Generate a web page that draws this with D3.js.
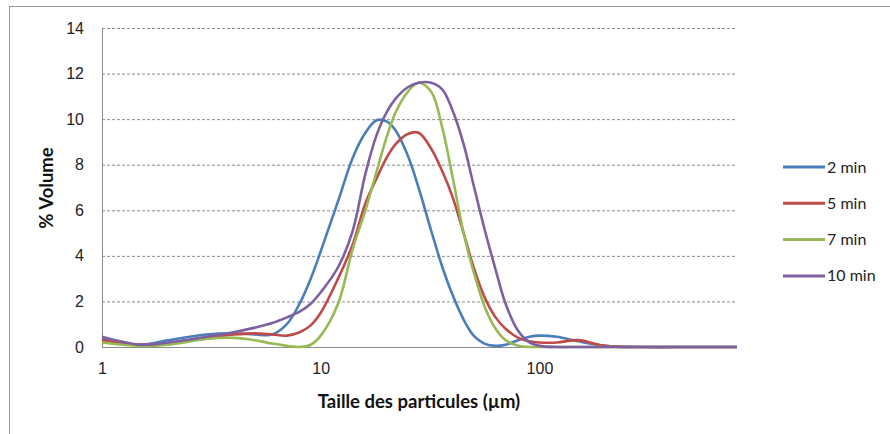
<!DOCTYPE html>
<head>
    <meta charset="utf-8">
    <style>
        body { margin: 0; background: #fff; }
        .grid line { stroke: #8c8c8c; stroke-dasharray: 3,2; stroke-width: 1; }
        .grid path { display: none; }
        .tick-y text, .tick-x text { font-family: "Liberation Sans", Arial, sans-serif; font-size: 16px; fill: #222; }
        .title { font-family: Lato, "Open Sans", sans-serif; font-weight: bold; font-size: 18.5px; fill: #111; }
        .legend text { font-family: Lato, "Open Sans", sans-serif; font-size: 16px; fill: #222; }
    </style>
</head>
<body>
    <script src="https://d3js.org/d3.v7.min.js"></script>
    <script>

        // particle sizes (µm) and % volume per grinding time
        var sizes = [1, 1.5, 2, 3, 4, 5, 6, 7, 8, 9, 10, 12, 14, 16, 18, 20, 22, 25, 28, 32, 36, 40, 45, 50, 56, 63, 70, 80, 90, 100, 120, 150, 200, 300, 500, 800];
        var min2  = [0.35, 0.1, 0.3, 0.55, 0.6, 0.55, 0.55, 1.0, 1.9, 3.0, 4.2, 6.4, 8.3, 9.4, 9.95, 9.9, 9.5, 8.4, 7.0, 5.1, 3.5, 2.3, 1.2, 0.5, 0.15, 0.05, 0.1, 0.3, 0.45, 0.5, 0.45, 0.25, 0.05, 0, 0, 0];
        var min5  = [0.3, 0.1, 0.15, 0.4, 0.55, 0.6, 0.55, 0.5, 0.65, 0.95, 1.5, 3.0, 4.5, 6.3, 7.4, 8.3, 8.9, 9.35, 9.4, 8.7, 7.7, 6.6, 5.0, 3.5, 2.2, 1.3, 0.8, 0.4, 0.25, 0.2, 0.2, 0.3, 0.05, 0, 0, 0];
        var min7  = [0.2, 0.05, 0.1, 0.35, 0.4, 0.3, 0.15, 0.05, 0, 0.1, 0.5, 1.9, 4.3, 6.0, 7.7, 9.2, 10.3, 11.2, 11.6, 11.2, 9.6, 7.5, 5.0, 3.3, 1.8, 0.8, 0.3, 0.05, 0, 0, 0, 0, 0, 0, 0, 0];
        var min10 = [0.45, 0.1, 0.2, 0.45, 0.65, 0.85, 1.05, 1.3, 1.55, 1.9, 2.4, 3.5, 5.1, 7.6, 9.3, 10.3, 10.9, 11.4, 11.6, 11.6, 11.3, 10.4, 8.9, 7.1, 5.2, 3.4, 1.9, 0.7, 0.2, 0.05, 0, 0, 0, 0, 0, 0];

        var seriesNames = ["2 min", "5 min", "7 min", "10 min"];
        var seriesValues = [min2, min5, min7, min10];
        var colors = ["#4a7ebb", "#be4b48", "#98b954", "#7d60a0"];

        var yTicks = [0, 2, 4, 6, 8, 10, 12, 14];
        var xTicks = [1, 10, 100];

        var W = 890, H = 434;
        var plot = {left: 102, right: 737, top: 28, bottom: 347};

        var svg = d3.select("body").append("svg")
            .attr("width", W)
            .attr("height", H);

        // outer chart border
        svg.append("rect")
            .attr("x", 9.5).attr("y", 6.5)
            .attr("width", 1000).attr("height", 1000)
            .attr("fill", "none")
            .attr("stroke", "#9a9a9a");

        var x = d3.scaleLog().domain([1, 800]).range([plot.left, plot.right]);
        var y = d3.scaleLinear().domain([0, 14]).range([plot.bottom, plot.top]);

        // horizontal gridlines
        svg.append("g")
            .attr("class", "grid")
            .attr("transform", "translate(" + plot.left + ",0)")
            .call(d3.axisLeft(y).tickValues(yTicks.slice(1)).tickSize(-(plot.right - plot.left)).tickFormat(""));

        // y labels
        svg.append("g")
            .attr("class", "tick-y")
            .attr("transform", "translate(" + plot.left + ",0)")
            .call(d3.axisLeft(y).tickValues(yTicks).tickSize(0).tickPadding(18))
            .call(function(g) { g.select(".domain").remove(); });

        // x labels
        svg.append("g")
            .attr("class", "tick-x")
            .attr("transform", "translate(0," + plot.bottom + ")")
            .call(d3.axisBottom(x).tickValues(xTicks).tickFormat(d3.format("d")).tickSize(0).tickPadding(16))
            .call(function(g) { g.select(".domain").remove(); });

        // axis lines
        svg.append("line")
            .attr("x1", plot.left + 0.5).attr("x2", plot.left + 0.5)
            .attr("y1", plot.top).attr("y2", plot.bottom)
            .attr("stroke", "#8c8c8c");
        svg.append("line")
            .attr("x1", plot.left).attr("x2", plot.right)
            .attr("y1", plot.bottom + 0.5).attr("y2", plot.bottom + 0.5)
            .attr("stroke", "#8c8c8c");

        // curves, smoothed like the spreadsheet lines
        var line = d3.line()
            .x(function(d, i) { return x(sizes[i]); })
            .y(function(d) { return y(d); })
            .curve(d3.curveCatmullRom.alpha(0.5));

        seriesValues.forEach(function(vals, i) {
            svg.append("path")
                .datum(vals)
                .attr("fill", "none")
                .attr("stroke", colors[i])
                .attr("stroke-width", 2.6)
                .attr("stroke-linejoin", "round")
                .attr("d", line);
        });

        // axis titles
        svg.append("text")
            .attr("class", "title")
            .attr("x", 419).attr("y", 408)
            .attr("text-anchor", "middle")
            .text("Taille des particules (µm)");
        svg.append("text")
            .attr("class", "title")
            .attr("transform", "translate(53,188) rotate(-90)")
            .attr("text-anchor", "middle")
            .text("% Volume");

        // legend
        var legend = svg.append("g").attr("class", "legend");
        seriesNames.forEach(function(name, i) {
            var ly = 167 + i * 36.3;
            legend.append("line")
                .attr("x1", 783).attr("x2", 825)
                .attr("y1", ly).attr("y2", ly)
                .attr("stroke", colors[i])
                .attr("stroke-width", 3);
            legend.append("text")
                .attr("x", 827).attr("y", ly + 5.5)
                .text(name);
        });

    </script>
</body>
